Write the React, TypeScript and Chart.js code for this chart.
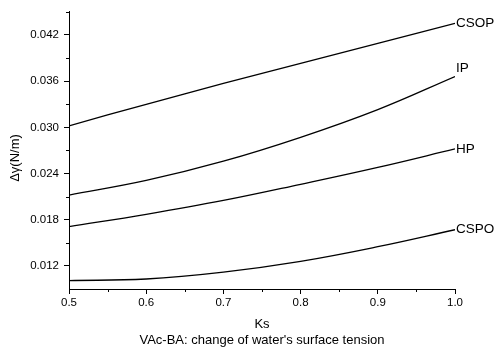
import React, { useEffect, useRef } from "react";
import { Chart, registerables } from "chart.js";

Chart.register(...registerables);

const ksValues = [0.5, 0.6, 0.7, 0.8, 0.9, 1.0];
const csopValues = [0.0302, 0.0330, 0.0357, 0.0383, 0.0409, 0.0435];
const ipValues = [0.0212, 0.0231, 0.0256, 0.0287, 0.0323, 0.0366];
const hpValues = [0.0171, 0.0187, 0.0205, 0.0226, 0.0248, 0.0272];
const cspoValues = [0.0101, 0.0103, 0.0112, 0.0126, 0.0145, 0.0167];
const seriesNames = ["CSOP", "IP", "HP", "CSPO"];
const yTickValues = [0.012, 0.018, 0.024, 0.030, 0.036, 0.042];
const xTickValues = [0.5, 0.6, 0.7, 0.8, 0.9, 1.0];
const yTitle = "Δγ(N/m)";
const xTitle = "Ks";
const caption = "VAc-BA: change of water's surface tension";

const FONT = "'Liberation Sans', Arial, sans-serif";

const labelOffsets: Record<string, number> = { CSOP: 0, IP: -8, HP: 0, CSPO: 0 };

const decorPlugin = {
  id: "decor",
  afterDraw(chart: any) {
    const ctx = chart.ctx;
    const { chartArea } = chart;
    const xs = chart.scales.x;
    const ys = chart.scales.y;
    ctx.save();
    ctx.strokeStyle = "#000";
    ctx.lineWidth = 1;
    // minor ticks
    ctx.beginPath();
    for (let i = 0; i < yTickValues.length; i++) {
      const v = yTickValues[i] + 0.003;
      const p = Math.round(ys.getPixelForValue(v)) + 0.5;
      if (p >= chartArea.top) {
        ctx.moveTo(chartArea.left - 3, p);
        ctx.lineTo(chartArea.left, p);
      }
    }
    for (let i = 0; i < xTickValues.length - 1; i++) {
      const v = xTickValues[i] + 0.05;
      const p = Math.round(xs.getPixelForValue(v)) + 0.5;
      ctx.moveTo(p, chartArea.bottom);
      ctx.lineTo(p, chartArea.bottom + 3);
    }
    ctx.stroke();
    // series labels
    ctx.fillStyle = "#000";
    ctx.font = `13.5px ${FONT}`;
    ctx.textAlign = "left";
    ctx.textBaseline = "middle";
    chart.data.datasets.forEach((ds: any, i: number) => {
      const meta = chart.getDatasetMeta(i);
      const pt = meta.data[meta.data.length - 1];
      ctx.fillText(ds.label, pt.x + 1, pt.y + (labelOffsets[ds.label] || 0));
    });
    // y title
    ctx.font = `13px ${FONT}`;
    ctx.translate(15, 158);
    ctx.rotate(-Math.PI / 2);
    ctx.textAlign = "center";
    ctx.fillText(yTitle, 0, 0);
    ctx.restore();
  },
};

export default function App() {
  const ref = useRef<HTMLCanvasElement>(null);
  useEffect(() => {
    const all = [csopValues, ipValues, hpValues, cspoValues];
    const chart = new Chart(ref.current!, {
      type: "line",
      data: {
        datasets: all.map((vals, i) => ({
          label: seriesNames[i],
          data: ksValues.map((k, j) => ({ x: k, y: vals[j] })),
          borderColor: "#000",
          borderWidth: 1.3,
          pointRadius: 0,
          fill: false,
          tension: 0.4,
        })),
      },
      options: {
        responsive: false,
        animation: false,
        layout: { padding: { top: 9, right: 39, left: 0, bottom: 0 } },
        plugins: { legend: { display: false }, tooltip: { enabled: false } },
        scales: {
          x: {
            type: "linear",
            min: 0.5,
            max: 1.0,
            afterBuildTicks: (s: any) => {
              s.ticks = xTickValues.map((v) => ({ value: v }));
            },
            afterFit: (s: any) => {
              s.height = 60;
            },
            ticks: {
              color: "#000",
              font: { family: FONT, size: 11.5 },
              padding: 2,
              maxRotation: 0,
              callback: (v: any) => Number(v).toFixed(1),
            },
            grid: {
              drawOnChartArea: false,
              drawTicks: true,
              tickLength: 5,
              color: "#000",
            },
            border: { display: true, color: "#000", width: 1 },
            title: {
              display: true,
              text: [xTitle, caption],
              color: "#000",
              font: { family: FONT, size: 13, lineHeight: 16 / 13 },
              padding: { top: 0, bottom: 1 },
            },
          },
          y: {
            type: "linear",
            min: 0.009,
            max: 0.045,
            afterBuildTicks: (s: any) => {
              s.ticks = yTickValues.map((v) => ({ value: v }));
            },
            afterFit: (s: any) => {
              s.width = 69;
            },
            ticks: {
              color: "#000",
              font: { family: FONT, size: 11.5 },
              padding: 5,
              callback: (v: any) => Number(v).toFixed(3),
            },
            grid: {
              drawOnChartArea: false,
              drawTicks: true,
              tickLength: 5,
              color: "#000",
            },
            border: { display: true, color: "#000", width: 1 },
          },
        },
      },
      plugins: [decorPlugin],
    });
    return () => chart.destroy();
  }, []);
  return (
    <div style={{ position: "fixed", left: 0, top: 0, width: 494, height: 349, background: "#fff" }}>
      <canvas ref={ref} width={494} height={349} style={{ width: 494, height: 349 }} />
    </div>
  );
}
